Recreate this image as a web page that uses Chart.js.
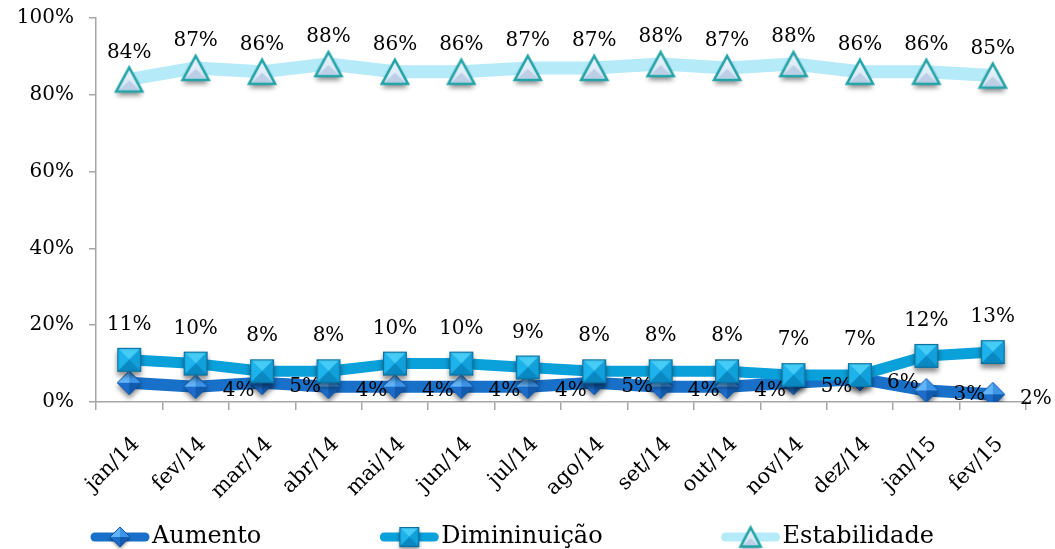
<!DOCTYPE html>
<html>
<head>
<meta charset="utf-8">
<script src="https://cdn.jsdelivr.net/npm/chart.js@4.4.1/dist/chart.umd.min.js"></script>
<style>
  html, body { margin: 0; padding: 0; background: #fff; }
  #wrap { width: 1055px; height: 549px; }
</style>
</head>
<body>
<div id="wrap"><canvas id="chart" width="1055" height="549"></canvas></div>
<script>
// Monthly shares of answers: increase, decrease, stability
const months = ['jan/14', 'fev/14', 'mar/14', 'abr/14', 'mai/14', 'jun/14', 'jul/14',
                'ago/14', 'set/14', 'out/14', 'nov/14', 'dez/14', 'jan/15', 'fev/15'];
const aumento      = [5, 4, 5, 4, 4, 4, 4, 5, 4, 4, 5, 6, 3, 2];
const diminuicao   = [11, 10, 8, 8, 10, 10, 9, 8, 8, 8, 7, 7, 12, 13];
const estabilidade = [84, 87, 86, 88, 86, 86, 87, 87, 88, 87, 88, 86, 86, 85];
const yTicks = [0, 20, 40, 60, 80, 100];
const seriesNames = ['Aumento', 'Dimininuição', 'Estabilidade'];

const SERIF = "'DejaVu Serif', 'Liberation Serif', serif";

// ---- bevelled marker sprites -------------------------------------------
function sprite(size) {
  const c = document.createElement('canvas');
  c.width = size; c.height = size;
  return c;
}
function shadowed(g, fn, soft) {
  g.save();
  g.shadowColor = 'rgba(0,0,0,0.45)';
  g.shadowBlur = soft ? 3 : 5;
  g.shadowOffsetY = soft ? 2 : 4;
  fn();
  g.restore();
}
function facet(g, pts, color) {
  g.beginPath();
  g.moveTo(pts[0][0], pts[0][1]);
  for (let i = 1; i < pts.length; i++) g.lineTo(pts[i][0], pts[i][1]);
  g.closePath();
  g.fillStyle = color;
  g.fill();
}

function diamondSprite(r, soft) {
  const S = Math.ceil(r * 2 + 18), c = sprite(S), g = c.getContext('2d');
  const x = S / 2, y = S / 2;
  const outline = () => {
    g.beginPath();
    g.moveTo(x, y - r); g.lineTo(x + r, y); g.lineTo(x, y + r); g.lineTo(x - r, y);
    g.closePath();
  };
  shadowed(g, () => { outline(); g.fillStyle = '#1566c4'; g.fill(); }, soft);
  facet(g, [[x, y], [x - r, y], [x, y - r]], '#62b3f7');
  facet(g, [[x, y], [x, y - r], [x + r, y]], '#3d95e8');
  facet(g, [[x, y], [x + r, y], [x, y + r]], '#125aae');
  facet(g, [[x, y], [x, y + r], [x - r, y]], '#1b6dc9');
  outline(); g.strokeStyle = '#0f56a8'; g.lineWidth = 1; g.stroke();
  return c;
}

function squareSprite(h, soft) {
  const S = Math.ceil(h * 2 + 18), c = sprite(S), g = c.getContext('2d');
  const x = S / 2, y = S / 2;
  shadowed(g, () => { g.fillStyle = '#0b8cc4'; g.fillRect(x - h, y - h, 2 * h, 2 * h); }, soft);
  facet(g, [[x, y], [x - h, y - h], [x + h, y - h]], '#45ccf6');
  facet(g, [[x, y], [x - h, y - h], [x - h, y + h]], '#1db3ec');
  facet(g, [[x, y], [x + h, y - h], [x + h, y + h]], '#12a0db');
  facet(g, [[x, y], [x - h, y + h], [x + h, y + h]], '#0a88c2');
  g.strokeStyle = '#0a6f9e'; g.lineWidth = 1.2;
  g.strokeRect(x - h + 0.6, y - h + 0.6, 2 * h - 1.2, 2 * h - 1.2);
  return c;
}

function triangleSprite(w, ht, soft) {
  const S = Math.ceil(Math.max(w, ht) + 18), c = sprite(S), g = c.getContext('2d');
  const x = S / 2, y = S / 2;
  const top = y - ht / 2, base = y + ht / 2;
  const outline = () => {
    g.beginPath();
    g.moveTo(x, top); g.lineTo(x + w / 2, base); g.lineTo(x - w / 2, base);
    g.closePath();
  };
  shadowed(g, () => { outline(); g.fillStyle = '#d3e3f2'; g.fill(); }, soft);
  const grad = g.createLinearGradient(0, top, 0, base);
  grad.addColorStop(0, '#eef6fd');
  grad.addColorStop(1, '#d2e3f3');
  outline(); g.fillStyle = grad; g.fill();
  facet(g, [[x, y + 1], [x + w / 2 - 3, base - 1.5], [x - w / 2 + 3, base - 1.5]], '#bccfe6');
  outline();
  g.lineJoin = 'miter';
  g.strokeStyle = '#22a3a7'; g.lineWidth = 2.6; g.stroke();
  return c;
}

const markers = [diamondSprite(12), squareSprite(12), triangleSprite(26, 24)];
const legendMarkers = [diamondSprite(10, true), squareSprite(10, true), triangleSprite(20, 19, true)];
const lineColors = ['#1870c9', '#0aa0da', '#b5eaf8'];
const lineWidths = [12, 11, 13];

// ---- value labels drawn next to each point ------------------------------
const valueLabels = {
  id: 'valueLabels',
  afterDatasetsDraw(chart) {
    const ctx = chart.ctx;
    chart.data.datasets.forEach((ds, i) => {
      const cfg = ds.valueLabel;
      if (!cfg) return;
      const meta = chart.getDatasetMeta(i);
      ctx.save();
      ctx.font = '20px ' + SERIF;
      ctx.fillStyle = '#000';
      ctx.textAlign = 'center';
      ctx.textBaseline = 'middle';
      meta.data.forEach((pt, j) => {
        if (cfg.skip && cfg.skip.includes(j)) return;
        ctx.fillText(ds.data[j] + '%', pt.x + cfg.dx, pt.y + cfg.dy);
      });
      ctx.restore();
    });
  }
};

// ---- legend with line + marker swatches ---------------------------------
const lineLegend = {
  id: 'lineLegend',
  afterDraw(chart) {
    const ctx = chart.ctx;
    const y = 537, swatch = 60, textGap = 2, itemGap = 118;
    let x = chart.chartArea.left - 6;
    ctx.save();
    ctx.font = '24px ' + SERIF;
    ctx.textBaseline = 'middle';
    ctx.textAlign = 'left';
    chart.data.datasets.forEach((ds, i) => {
      ctx.strokeStyle = ds.borderColor;
      ctx.lineWidth = 9;
      ctx.lineCap = 'round';
      ctx.beginPath();
      ctx.moveTo(x + 5, y); ctx.lineTo(x + swatch - 5, y);
      ctx.stroke();
      const img = legendMarkers[i];
      ctx.drawImage(img, x + swatch / 2 - img.width / 2, y - img.height / 2);
      ctx.fillStyle = '#000';
      ctx.fillText(ds.label, x + swatch + textGap, y);
      x += swatch + textGap + ctx.measureText(ds.label).width + itemGap;
    });
    ctx.restore();
  }
};

const series = [aumento, diminuicao, estabilidade];
const labelCfg = [
  { dx: 43, dy: 4, skip: [0] },
  { dx: 0, dy: -35 },
  { dx: 0, dy: -27 }
];

new Chart(document.getElementById('chart'), {
  type: 'line',
  data: {
    labels: months,
    datasets: series.map((vals, i) => ({
      label: seriesNames[i],
      data: vals,
      borderColor: lineColors[i],
      backgroundColor: lineColors[i],
      borderWidth: lineWidths[i],
      pointStyle: markers[i],
      pointRadius: 12,
      pointHoverRadius: 12,
      order: 3 - i,
      valueLabel: labelCfg[i]
    }))
  },
  options: {
    responsive: false,
    animation: false,
    events: [],
    layout: { autoPadding: false, padding: { top: 18, right: 29, left: 0, bottom: 0 } },
    elements: {
      line: { tension: 0, borderCapStyle: 'round', borderJoinStyle: 'round', fill: false }
    },
    plugins: { legend: { display: false }, tooltip: { enabled: false } },
    scales: {
      x: {
        offset: true,
        grid: { display: true, offset: true, drawOnChartArea: false, tickLength: 8, color: '#a6a6a6', lineWidth: 1.5 },
        border: { display: true, color: '#a6a6a6', width: 1.5 },
        ticks: {
          autoSkip: false, maxRotation: 45, minRotation: 45, padding: 22, labelOffset: 7,
          color: '#000', font: { family: SERIF, size: 21 }
        },
        afterFit(s) { s.height = 147; s.paddingLeft = 0; s.paddingRight = 0; }
      },
      y: {
        min: 0, max: 100,
        afterBuildTicks(s) { s.ticks = yTicks.map(v => ({ value: v })); },
        ticks: { callback: v => v + '%', color: '#000', font: { family: SERIF, size: 20 }, padding: 15 },
        grid: { display: true, drawOnChartArea: false, tickLength: 7, color: '#a6a6a6', lineWidth: 1.5 },
        border: { display: true, color: '#a6a6a6', width: 1.5 },
        afterFit(s) { s.width = 96; s.paddingTop = 0; s.paddingBottom = 0; }
      }
    }
  },
  plugins: [valueLabels, lineLegend]
});
</script>
</body>
</html>
